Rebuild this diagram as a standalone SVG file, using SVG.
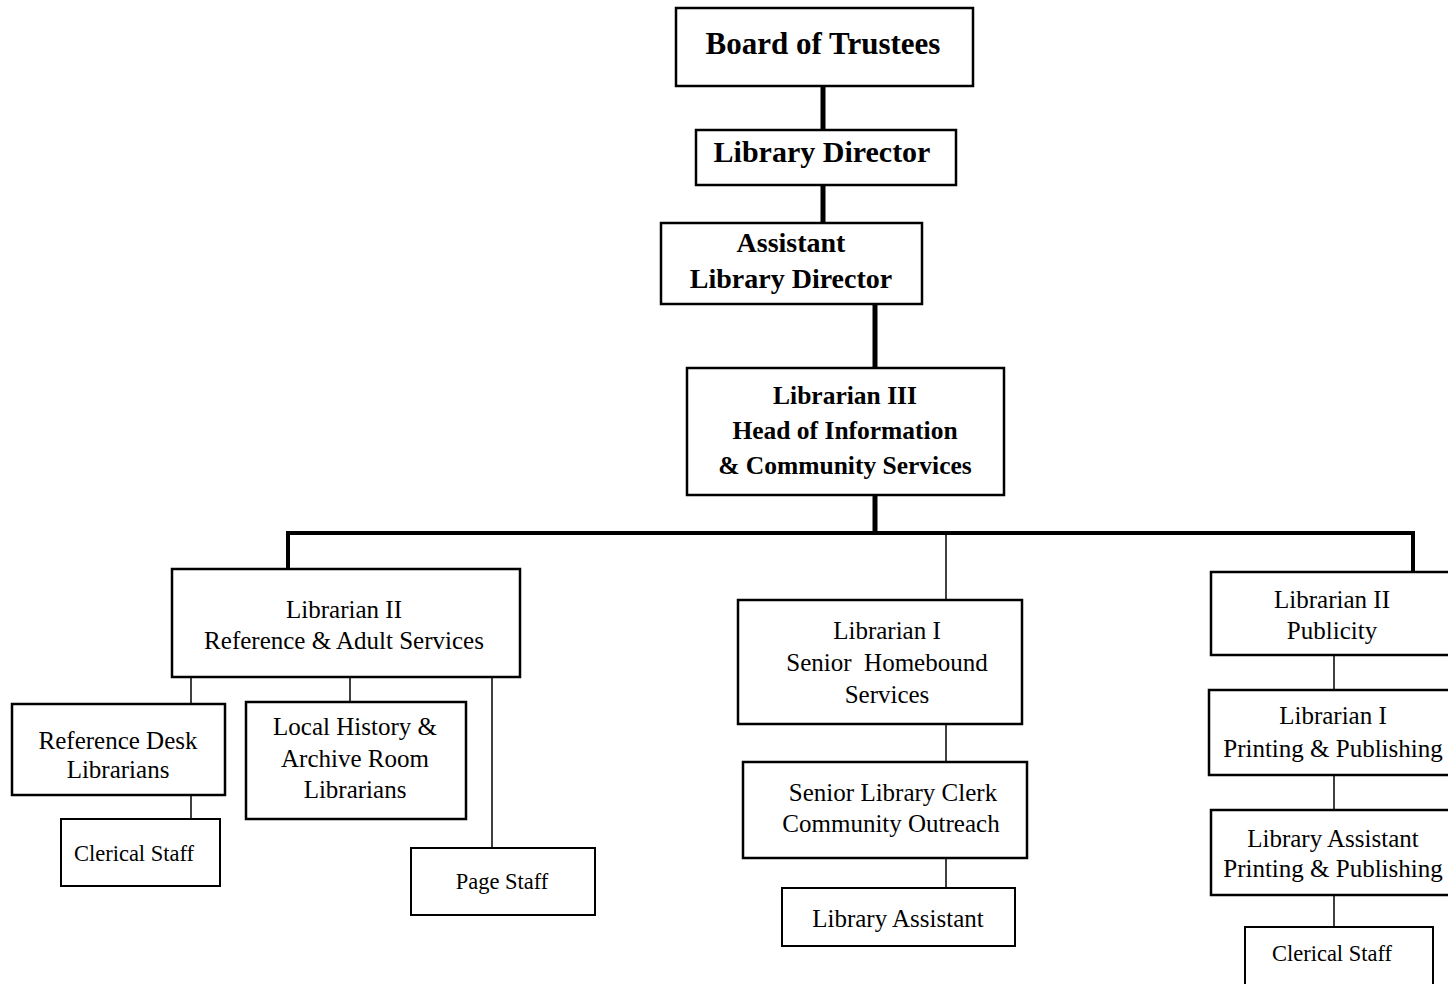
<svg xmlns="http://www.w3.org/2000/svg" width="1448" height="984" viewBox="0 0 1448 984">
<style>
  .box { fill: #fff; stroke: #000; stroke-width: 2.5; }
  .sbox { fill: #fff; stroke: #000; stroke-width: 2; }
  .b { font-family: "Liberation Serif", "DejaVu Serif", serif; font-weight: bold; text-anchor: middle; fill: #000; }
  .r { font-family: "Liberation Serif", "DejaVu Serif", serif; text-anchor: middle; fill: #000; font-size: 25px; }
  .s { font-family: "Liberation Serif", "DejaVu Serif", serif; text-anchor: middle; fill: #000; font-size: 22.5px; }
  .thick { stroke: #000; stroke-width: 5; fill: none; }
  .bus { stroke: #000; stroke-width: 4; fill: none; }
  .thin { stroke: #000; stroke-width: 1.5; fill: none; }
</style>
<rect width="1448" height="984" fill="#fff"/>
<g id="connectors">
  <line class="thick" x1="823" y1="87" x2="823" y2="130"/>
  <line class="thick" x1="823" y1="185" x2="823" y2="223"/>
  <line class="thick" x1="875" y1="304" x2="875" y2="367"/>
  <line class="thick" x1="875" y1="496" x2="875" y2="535"/>
  <polyline class="bus" points="288,569 288,533 1413,533 1413,572"/>
  <line class="thin" x1="946" y1="533" x2="946" y2="600"/>
  <line class="thin" x1="191" y1="677" x2="191" y2="704"/>
  <line class="thin" x1="350" y1="677" x2="350" y2="702"/>
  <line class="thin" x1="492" y1="677" x2="492" y2="847"/>
  <line class="thin" x1="191" y1="795" x2="191" y2="819"/>
  <line class="thin" x1="946" y1="724" x2="946" y2="762"/>
  <line class="thin" x1="946" y1="858" x2="946" y2="888"/>
  <line class="thin" x1="1334" y1="655" x2="1334" y2="690"/>
  <line class="thin" x1="1334" y1="775" x2="1334" y2="810"/>
  <line class="thin" x1="1334" y1="895" x2="1334" y2="927"/>
</g>
<g id="board">
  <rect class="box" x="676" y="8" width="297" height="78"/>
  <text class="b" x="823" y="54" font-size="31">Board of Trustees</text>
</g>
<g id="director">
  <rect class="box" x="696" y="130" width="260" height="55"/>
  <text class="b" x="822" y="162" font-size="30">Library Director</text>
</g>
<g id="assistant-director">
  <rect class="box" x="661" y="223" width="261" height="81"/>
  <text class="b" x="791" y="252" font-size="28">Assistant</text>
  <text class="b" x="791" y="288" font-size="28">Library Director</text>
</g>
<g id="librarian3">
  <rect class="box" x="687" y="368" width="317" height="127" stroke-width="3"/>
  <text class="b" x="845" y="404" font-size="25.5">Librarian III</text>
  <text class="b" x="845" y="439" font-size="25.5">Head of Information</text>
  <text class="b" x="845" y="474" font-size="25.5">&amp; Community Services</text>
</g>
<g id="ref-adult">
  <rect class="box" x="172" y="569" width="348" height="108"/>
  <text class="r" x="344" y="618">Librarian II</text>
  <text class="r" x="344" y="649">Reference &amp; Adult Services</text>
</g>
<g id="ref-desk">
  <rect class="box" x="12" y="704" width="213" height="91"/>
  <text class="r" x="118" y="749">Reference Desk</text>
  <text class="r" x="118" y="778">Librarians</text>
</g>
<g id="local-history">
  <rect class="box" x="246" y="702" width="220" height="117"/>
  <text class="r" x="355" y="735">Local History &amp;</text>
  <text class="r" x="355" y="767">Archive Room</text>
  <text class="r" x="355" y="798">Librarians</text>
</g>
<g id="clerical-left">
  <rect class="sbox" x="61" y="819" width="159" height="67"/>
  <text class="s" x="134" y="861">Clerical Staff</text>
</g>
<g id="page-staff">
  <rect class="sbox" x="411" y="848" width="184" height="67"/>
  <text class="s" x="502" y="889">Page Staff</text>
</g>
<g id="homebound">
  <rect class="box" x="738" y="600" width="284" height="124"/>
  <text class="r" x="887" y="639">Librarian I</text>
  <text class="r" x="887" y="671" xml:space="preserve" style="white-space:pre">Senior  Homebound</text>
  <text class="r" x="887" y="703">Services</text>
</g>
<g id="senior-clerk">
  <rect class="box" x="743" y="762" width="284" height="96"/>
  <text class="r" x="893" y="801">Senior Library Clerk</text>
  <text class="r" x="891" y="832">Community Outreach</text>
</g>
<g id="library-assistant">
  <rect class="sbox" x="782" y="888" width="233" height="58"/>
  <text class="r" x="898" y="927">Library Assistant</text>
</g>
<g id="publicity">
  <rect class="box" x="1211" y="572" width="260" height="83"/>
  <text class="r" x="1332" y="608">Librarian II</text>
  <text class="r" x="1332" y="639">Publicity</text>
</g>
<g id="printing-librarian">
  <rect class="box" x="1209" y="690" width="260" height="85"/>
  <text class="r" x="1333" y="724">Librarian I</text>
  <text class="r" x="1333" y="757">Printing &amp; Publishing</text>
</g>
<g id="printing-assistant">
  <rect class="box" x="1211" y="810" width="260" height="85"/>
  <text class="r" x="1333" y="847">Library Assistant</text>
  <text class="r" x="1333" y="877">Printing &amp; Publishing</text>
</g>
<g id="clerical-right">
  <rect class="sbox" x="1245" y="927" width="188" height="70"/>
  <text class="s" x="1332" y="961">Clerical Staff</text>
</g>
</svg>
